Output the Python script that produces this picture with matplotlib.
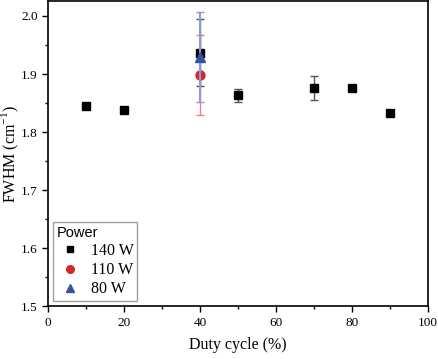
import matplotlib.pyplot as plt
from matplotlib.ticker import MultipleLocator
from matplotlib.lines import Line2D

# 140 W series
duty_140 = [10, 20, 40, 50, 70, 80, 90]
fwhm_140 = [1.845, 1.838, 1.937, 1.863, 1.876, 1.876, 1.833]
err_140 = [0.0, 0.0, 0.057, 0.012, 0.020, 0.0, 0.0]

# 110 W and 80 W (only at 40 %)
duty_110 = [40]
fwhm_110 = [1.899]
err_110 = [0.069]

duty_80 = [40]
fwhm_80 = [1.929]
err_80 = [0.077]

plt.rcParams['font.family'] = 'Liberation Serif'
plt.rcParams['mathtext.fontset'] = 'custom'
plt.rcParams['mathtext.rm'] = 'Liberation Serif'

fig = plt.figure(figsize=(4.38, 3.59), dpi=100)
ax = fig.add_axes([0.11, 0.147, 0.867, 0.849])

ax.errorbar(duty_140, fwhm_140, yerr=err_140, fmt='s', color='black', ms=6,
            ecolor='#555555', elinewidth=1, capsize=3, capthick=1, zorder=4)
ax.errorbar(duty_110, fwhm_110, yerr=err_110, fmt='o', color='#d62728', ms=6.5,
            ecolor='#f08080', elinewidth=1, capsize=3, capthick=1, zorder=3)
ax.errorbar(duty_80, fwhm_80, yerr=err_80, fmt='^', color='#3a4fa8', ms=6.5,
            ecolor='#9098d8', elinewidth=1.5, capsize=3, capthick=1, zorder=5)

ax.set_xlim(0, 100)
ax.set_ylim(1.5, 2.025)
ax.xaxis.set_major_locator(MultipleLocator(20))
ax.xaxis.set_minor_locator(MultipleLocator(10))
ax.yaxis.set_major_locator(MultipleLocator(0.1))
ax.yaxis.set_minor_locator(MultipleLocator(0.05))
ax.tick_params(which='both', direction='out', labelsize=9.5, width=1)
ax.tick_params(which='major', length=4)
ax.tick_params(which='minor', length=2)
for s in ax.spines.values():
    s.set_linewidth(1.2)

ax.set_xlabel('Duty cycle (%)', fontsize=11.5, labelpad=6)
ax.set_ylabel('FWHM (cm$^{-1}$)', fontsize=11.5)
ax.yaxis.set_label_coords(-0.072, 0.5)

handles = [
    Line2D([], [], ls='', marker='s', color='black', ms=5),
    Line2D([], [], ls='', marker='o', color='#d62728', ms=5.5),
    Line2D([], [], ls='', marker='^', color='#3a4fa8', ms=5.5),
]
leg = ax.legend(handles, ['140 W', '110 W', '80 W'], title='Power', loc='lower left',
                fontsize=11.5, title_fontsize=10.5, frameon=True, fancybox=False,
                edgecolor='#888888', handlelength=1.6, handletextpad=0.5,
                borderaxespad=0.3, labelspacing=0.2, borderpad=0.25)
leg._legend_box.align = 'left'
leg.get_title().set_family('Liberation Sans')

fig.savefig('out.png', dpi=100)
